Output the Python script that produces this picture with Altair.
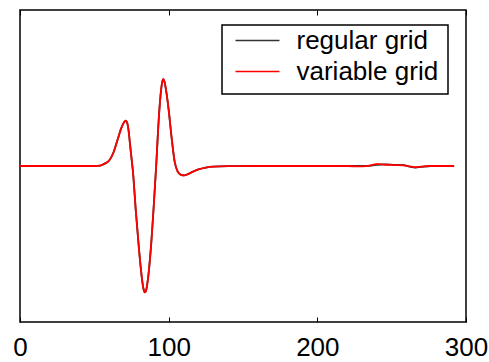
import altair as alt
import pandas as pd

# x positions (shared by both series)
x_vals = [0, 40, 50, 54, 57, 60, 63, 66, 68, 70, 71, 72, 73, 74, 75, 76, 78, 80, 82, 83,
          84, 85, 86, 88, 90, 91.6, 93, 94.5, 95.5, 96.3, 97.2, 98.5, 100, 102, 104, 106,
          108, 110.5, 113, 116, 120, 125, 130, 140, 160, 200, 220, 228, 234, 240, 246,
          252, 258, 262, 266, 270, 276, 292]

variable_grid = [0, 0, 0, 0.003, 0.015, 0.035, 0.09, 0.18, 0.24, 0.28, 0.29, 0.28, 0.23,
                 0.14, 0.05, -0.04, -0.30, -0.53, -0.72, -0.785, -0.81, -0.79, -0.73,
                 -0.53, -0.25, 0.0, 0.25, 0.45, 0.53, 0.556, 0.54, 0.47, 0.36, 0.18, 0.03,
                 -0.035, -0.055, -0.06, -0.052, -0.038, -0.022, -0.01, -0.004, -0.001, 0,
                 0, 0, -0.003, 0.001, 0.012, 0.008, 0.006, 0.004, -0.002, -0.008, -0.004,
                 0, 0]

regular_grid = [0, 0, 0, 0.003, 0.015, 0.035, 0.09, 0.18, 0.24, 0.28, 0.29, 0.28, 0.23,
                0.14, 0.05, -0.04, -0.30, -0.53, -0.72, -0.785, -0.81, -0.79, -0.73,
                -0.53, -0.25, 0.0, 0.25, 0.45, 0.53, 0.556, 0.54, 0.47, 0.36, 0.18, 0.03,
                -0.035, -0.055, -0.06, -0.052, -0.038, -0.022, -0.01, -0.004, -0.001, 0,
                0, 0, 0, 0.001, 0.008, 0.010, 0.007, 0.005, -0.004, -0.010, -0.006,
                0, 0]

series_names = ["regular grid", "variable grid"]
series_colors = ["#333333", "#ff0000"]
x_ticks = [0, 100, 200, 300]

rows = []
for name, vals in zip(series_names, [regular_grid, variable_grid]):
    for xv, yv in zip(x_vals, vals):
        rows.append({"x": xv, "y": yv, "series": name})
df = pd.DataFrame(rows)

FONT = "Liberation Sans"
xscale = alt.Scale(domain=[0, 300], nice=False, zero=False)
yscale = alt.Scale(domain=[-1, 1], nice=False, zero=False)

lines = alt.Chart(df).mark_line(strokeWidth=1.8, interpolate="monotone").encode(
    x=alt.X("x:Q", scale=xscale,
            axis=alt.Axis(values=x_ticks, orient="bottom", offset=-5, tickSize=5,
                          domain=False, grid=False, labelFontSize=26, labelPadding=12,
                          labelColor="black", tickColor="black", labelFont=FONT,
                          labelFlush=False, title=None)),
    y=alt.Y("y:Q", scale=yscale, axis=None),
    color=alt.Color("series:N",
                    scale=alt.Scale(domain=series_names, range=series_colors),
                    legend=alt.Legend(title=None, orient="none", legendX=202, legendY=15,
                                      strokeColor="black", fillColor="white", padding=9.5,
                                      symbolType="stroke", symbolSize=1936,
                                      symbolStrokeWidth=1.5, symbolOffset=3,
                                      labelFontSize=26, labelFont=FONT, labelColor="black",
                                      labelOffset=16, rowPadding=5, clipHeight=12)),
)

top_ticks = alt.Chart(df).mark_line(opacity=0).encode(
    x=alt.X("x:Q", scale=xscale,
            axis=alt.Axis(values=x_ticks, orient="top", offset=-5, tickSize=5,
                          domain=False, grid=False, labels=False, tickColor="black",
                          title=None)),
    y=alt.Y("y:Q", scale=yscale, axis=None),
)

chart = alt.layer(lines, top_ticks).resolve_axis(x="independent").properties(
    width=446, height=312,
    autosize=alt.AutoSizeParams(type="none"),
    padding={"left": 20, "top": 10, "right": 23, "bottom": 40},
).configure_view(stroke="black", strokeWidth=1.5).configure_legend(strokeWidth=1.5)

chart.save("out.html", embed_options={"renderer": "svg", "actions": False})
